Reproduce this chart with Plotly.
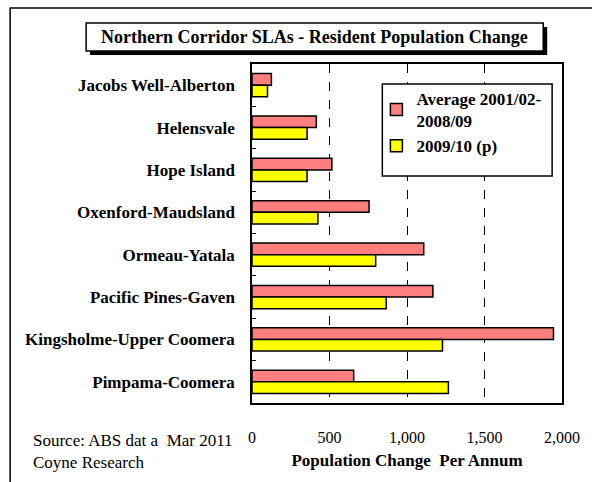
import plotly.graph_objects as go

categories = ["Jacobs Well-Alberton", "Helensvale", "Hope Island", "Oxenford-Maudsland",
              "Ormeau-Yatala", "Pacific Pines-Gaven", "Kingsholme-Upper Coomera", "Pimpama-Coomera"]
avg_0102_0809 = [125, 415, 515, 755, 1108, 1167, 1945, 656]
y_2009_10 = [100, 355, 355, 425, 798, 866, 1229, 1267]
series_names = ["Average 2001/02-<br>2008/09", "2009/10 (p)"]
x_ticks = [0, 500, 1000, 1500, 2000]
x_tick_labels = ["0", "500", "1,000", "1,500", "2,000"]

W, H = 592, 482
L, R, T, B = 252, 566, 64, 403
def px(x): return (x - L) / (R - L)
def py(y): return (B - y) / (B - T)

FONT = "Liberation Serif"

fig = go.Figure()
fig.add_trace(go.Bar(y=categories, x=avg_0102_0809, orientation="h", name=series_names[0],
                     marker=dict(color="#FF7F7F", line=dict(color="black", width=1.5))))
fig.add_trace(go.Bar(y=categories, x=y_2009_10, orientation="h", name=series_names[1],
                     marker=dict(color="#FFFF00", line=dict(color="black", width=1.5))))

shapes = [
    # outer frame
    dict(type="rect", xref="paper", yref="paper", x0=px(7), x1=px(600), y0=py(490), y1=py(8),
         line=dict(color="black", width=1.5), fillcolor="rgba(0,0,0,0)", layer="below"),
    # title shadow
    dict(type="rect", xref="paper", yref="paper", x0=px(88), x1=px(551), y0=py(55), y1=py(27),
         line=dict(width=0), fillcolor="black", layer="above"),
    # title box
    dict(type="rect", xref="paper", yref="paper", x0=px(84), x1=px(547), y0=py(51), y1=py(23),
         line=dict(color="black", width=1.5), fillcolor="white", layer="above"),
    # legend box
    dict(type="rect", xref="paper", yref="paper", x0=px(384), x1=px(556), y0=py(176), y1=py(84),
         line=dict(color="black", width=1.5), fillcolor="white", layer="above"),
]

annotations = [
    dict(text="<b>Northern Corridor SLAs - Resident Population Change</b>", xref="paper", yref="paper",
         x=px(315.5), y=py(37), xanchor="center", yanchor="middle", showarrow=False,
         font=dict(family=FONT, size=18, color="black")),
    dict(text="Source: ABS dat a  Mar 2011<br>Coyne Research", xref="paper", yref="paper",
         x=px(28), y=py(451), xanchor="left", yanchor="middle", align="left", showarrow=False,
         font=dict(family=FONT, size=17, color="black")),
]

fig.update_layout(
    width=W, height=H,
    margin=dict(l=L, r=W - R, t=T, b=H - B),
    paper_bgcolor="white", plot_bgcolor="white",
    barmode="group", bargap=0.45, bargroupgap=0,
    showlegend=True,
    legend=dict(x=px(378), y=py(81), xanchor="left", yanchor="top",
                bgcolor="rgba(0,0,0,0)", borderwidth=0, traceorder="normal",
                font=dict(family=FONT, size=17, color="black", weight="bold"),
                tracegroupgap=4),
    shapes=shapes, annotations=annotations,
    font=dict(family=FONT, color="black"),
)
fig.update_xaxes(range=[0, 2000], tickvals=x_ticks, ticktext=x_tick_labels,
                 showgrid=True, gridcolor="black", griddash="dash", gridwidth=1,
                 showline=True, linecolor="black", linewidth=1.5, mirror=True,
                 ticks="", zeroline=False, ticklabelstandoff=19,
                 tickfont=dict(family=FONT, size=16, color="black"),
                 title=dict(text="<b>Population Change  Per Annum</b>", standoff=9,
                            font=dict(family=FONT, size=17, color="black")))
fig.update_yaxes(autorange="reversed", categoryorder="array", categoryarray=categories,
                 showline=True, linecolor="black", linewidth=1.5, mirror=True,
                 ticks="inside", tickson="boundaries", ticklen=4, tickcolor="black",
                 showgrid=False, ticklabelstandoff=12,
                 tickfont=dict(family=FONT, size=17, color="black", weight="bold"))

fig.write_html("out.html", config={"displayModeBar": False},
               post_script="document.body.style.margin='0';")
